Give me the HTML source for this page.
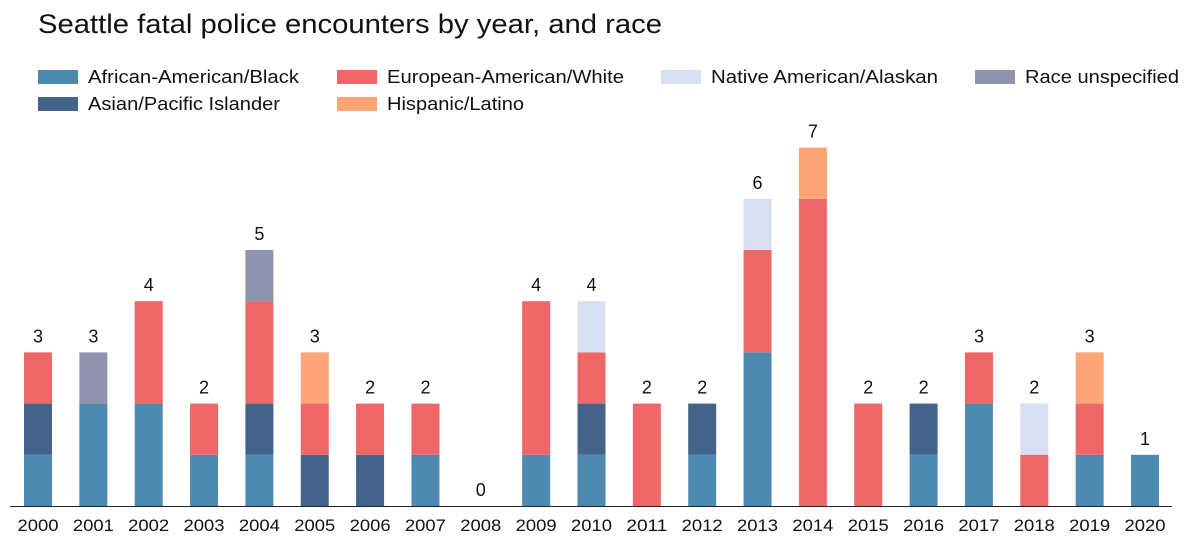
<!DOCTYPE html>
<html><head><meta charset="utf-8"><style>
body{margin:0;background:#fff;font-family:"Liberation Sans",sans-serif;}
svg text{font-family:"Liberation Sans",sans-serif;fill:#111;}
</style></head><body>
<svg id="chart" width="1196" height="546" xmlns="http://www.w3.org/2000/svg">
<text x="38" y="33" font-size="27" textLength="624" lengthAdjust="spacingAndGlyphs">Seattle fatal police encounters by year, and race</text>
<g id="legend"></g>
<g id="bars"></g>
<line x1="10" x2="1172" y1="506.5" y2="506.5" stroke="#222" stroke-width="1"/>
<g id="xticks"></g>
<g id="totals"></g>
</svg>
<script>
const years = [2000,2001,2002,2003,2004,2005,2006,2007,2008,2009,2010,2011,2012,2013,2014,2015,2016,2017,2018,2019,2020];
const seriesNames = ["African-American/Black","Asian/Pacific Islander","European-American/White","Hispanic/Latino","Native American/Alaskan","Race unspecified"];
const black    = [1,2,2,1,1,0,0,1,0,1,1,0,1,3,0,0,1,2,0,1,1];
const asian    = [1,0,0,0,1,1,1,0,0,0,1,0,1,0,0,0,1,0,0,0,0];
const white    = [1,0,2,1,2,1,1,1,0,3,1,2,0,2,6,2,0,1,1,1,0];
const hispanic = [0,0,0,0,0,1,0,0,0,0,0,0,0,0,1,0,0,0,0,1,0];
const native   = [0,0,0,0,0,0,0,0,0,0,1,0,0,1,0,0,0,0,1,0,0];
const unspec   = [0,1,0,0,1,0,0,0,0,0,0,0,0,0,0,0,0,0,0,0,0];
const colors = ["#4e8aaf","#42648a","#ee6666","#ffa474","#d6e0f0","#8f94ae"];
const series = [black,asian,white,hispanic,native,unspec];
const NS="http://www.w3.org/2000/svg";
const x0=38, dx=(1145-38)/20, bw=28, base=506, unit=51.2;
const xs=i=>x0+i*dx, ys=v=>base-v*unit;
const bars=document.getElementById('bars'), tk=document.getElementById('xticks'), tot=document.getElementById('totals');
years.forEach((yr,i)=>{
  let acc=0;
  series.forEach((s,k)=>{
    if(s[i]>0){
      const r=document.createElementNS(NS,'rect');
      r.setAttribute('x',xs(i)-bw/2);r.setAttribute('width',bw);
      r.setAttribute('y',ys(acc+s[i]));r.setAttribute('height',s[i]*unit);
      r.setAttribute('fill',colors[k]);
      
      
      bars.appendChild(r);
      acc+=s[i];
    }
  });
  const t=document.createElementNS(NS,'text');
  t.setAttribute('x',xs(i));t.setAttribute('y',531);t.setAttribute('text-anchor','middle');t.setAttribute('font-size','17');
  t.setAttribute('textLength','41');t.setAttribute('lengthAdjust','spacingAndGlyphs');
  t.textContent=yr;
  
  
  tk.appendChild(t);
  const l=document.createElementNS(NS,'text');
  l.setAttribute('x',xs(i));l.setAttribute('y',ys(acc)-10);l.setAttribute('text-anchor','middle');l.setAttribute('font-size','18');
  l.textContent=acc;
  
  
  tot.appendChild(l);
});
const leg=document.getElementById('legend');
const legPos=[[38,77],[38,104],[337,77],[337,104],[661,77],[975,77]];
const legLen=[211,192,237,137,227,154];
seriesNames.forEach((n,k)=>{
  const r=document.createElementNS(NS,'rect');
  r.setAttribute('x',legPos[k][0]);r.setAttribute('y',legPos[k][1]-7);r.setAttribute('width',40);r.setAttribute('height',14);r.setAttribute('fill',colors[k]);
  
  
  leg.appendChild(r);
  const t=document.createElementNS(NS,'text');
  t.setAttribute('x',legPos[k][0]+50);t.setAttribute('y',legPos[k][1]+6);t.setAttribute('font-size','18');
  t.setAttribute('textLength',legLen[k]);t.setAttribute('lengthAdjust','spacingAndGlyphs');
  t.textContent=n;
  
  
  leg.appendChild(t);
});
</script>
</body></html>
